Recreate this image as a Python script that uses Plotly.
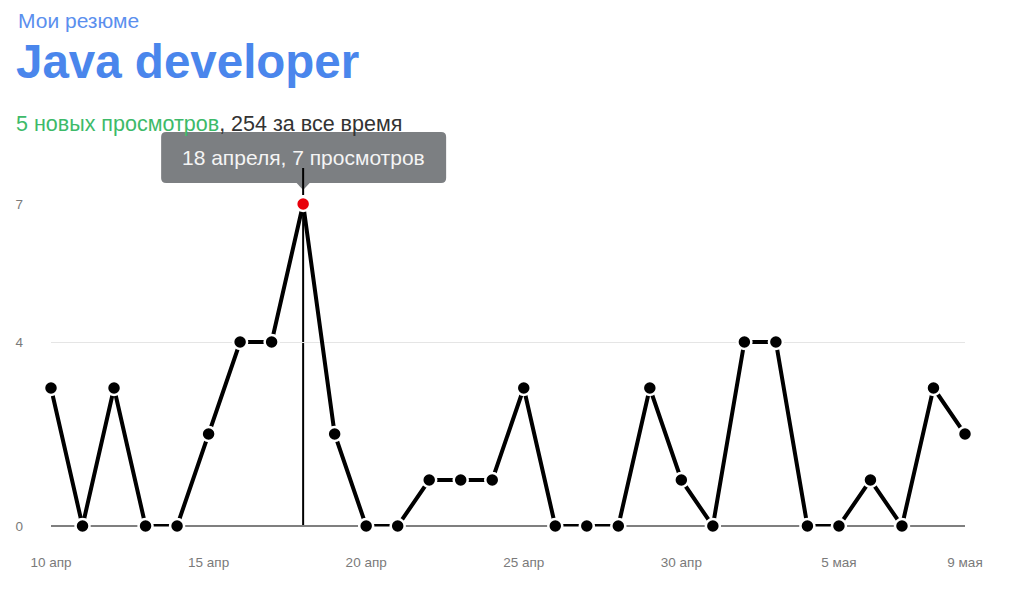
import plotly.graph_objects as go
import pandas as pd

# ---- data ----
dates = pd.date_range("2024-04-10", "2024-05-09", freq="D")
views = [3, 0, 3, 0, 0, 2, 4, 4, 7, 2,
         0, 0, 1, 1, 1, 3, 0, 0, 0, 3,
         1, 0, 4, 4, 0, 0, 1, 0, 3, 2]
tick_dates = ["2024-04-10", "2024-04-15", "2024-04-20", "2024-04-25",
              "2024-04-30", "2024-05-05", "2024-05-09"]
tick_labels = ["10 апр", "15 апр", "20 апр", "25 апр", "30 апр", "5 мая", "9 мая"]
y_ticks = [0, 4, 7]
y_max = 7
highlight_index = 8
tooltip_text = "18 апреля, 7 просмотров"
header_small = "Мои резюме"
header_title = "Java developer"
new_views_text = "5 новых просмотров"
total_text = ", 254 за все время"

peak_x = dates[highlight_index]
peak_y = views[highlight_index]

marker_colors = ["black"] * len(views)
marker_colors[highlight_index] = "#e8000b"

fig = go.Figure()
fig.add_trace(go.Scatter(
    x=dates, y=views, mode="lines+markers",
    line=dict(color="black", width=4),
    marker=dict(size=14, color=marker_colors, line=dict(color="white", width=2.5)),
    cliponaxis=False, hoverinfo="skip",
))

# page body has an 8px margin: size the figure to fit the window
OFF = 8
W, H = 1024 - OFF, 607 - OFF
L, R, T, B = 43, 59, 196, 81
pw, ph = W - L - R, H - T - B

def px_x(x_ref):
    return (x_ref - OFF - L) / pw

def px_y(y_ref):
    return (H - B - (y_ref - OFF)) / ph

# peak position in paper coordinates (derived from data & axis range)
peak_px = highlight_index / (len(dates) - 1)
peak_py = peak_y / y_max

def dx(p):
    return peak_px + p / pw

def dy(p):
    return peak_py + p / ph

TIP = "#7c7f82"
r = 5
x0, x1, y0, y1 = -142, 143, 21, 72
box_path = (
    f"M {dx(x0 + r)},{dy(y0)} L {dx(x1 - r)},{dy(y0)} Q {dx(x1)},{dy(y0)} {dx(x1)},{dy(y0 + r)} "
    f"L {dx(x1)},{dy(y1 - r)} Q {dx(x1)},{dy(y1)} {dx(x1 - r)},{dy(y1)} "
    f"L {dx(x0 + r)},{dy(y1)} Q {dx(x0)},{dy(y1)} {dx(x0)},{dy(y1 - r)} "
    f"L {dx(x0)},{dy(y0 + r)} Q {dx(x0)},{dy(y0)} {dx(x0 + r)},{dy(y0)} Z"
)
tri_path = f"M {dx(-7)},{dy(21.5)} L {dx(7)},{dy(21.5)} L {dx(0)},{dy(14)} Z"

shapes = [
    dict(type="line", xref="x", yref="y", x0=peak_x, x1=peak_x, y0=0, y1=peak_y,
         line=dict(color="black", width=2), layer="below"),
    dict(type="path", xref="paper", yref="paper", path=box_path,
         fillcolor=TIP, line=dict(width=0), layer="above"),
    dict(type="path", xref="paper", yref="paper", path=tri_path,
         fillcolor=TIP, line=dict(width=0), layer="above"),
    dict(type="line", xref="paper", yref="paper", x0=dx(0), x1=dx(0), y0=dy(9), y1=dy(36),
         line=dict(color="black", width=2), layer="above"),
]

FONT = "Liberation Sans, Arial, sans-serif"
annotations = [
    dict(text=header_small, xref="paper", yref="paper", x=px_x(16), y=px_y(20),
         xanchor="left", yanchor="middle", showarrow=False,
         font=dict(family=FONT, size=21, color="#5b8fee")),
    dict(text="<b>" + header_title + "</b>", xref="paper", yref="paper", x=px_x(14), y=px_y(62),
         xanchor="left", yanchor="middle", showarrow=False,
         font=dict(family=FONT, size=47.5, color="#4a86ec")),
    dict(text="<span style='color:#3dba69'>" + new_views_text + "</span>" + total_text,
         xref="paper", yref="paper", x=px_x(14), y=px_y(124),
         xanchor="left", yanchor="middle", showarrow=False,
         font=dict(family=FONT, size=21.5, color="#333333")),
    dict(text=tooltip_text, xref="paper", yref="paper", x=dx(0), y=dy(47),
         xanchor="center", yanchor="middle", showarrow=False,
         font=dict(family=FONT, size=21, color="#f4f4f4")),
]

TICKFONT = dict(family="Liberation Sans Narrow, Arial Narrow, Liberation Sans, sans-serif",
                size=13.5, color="#7a7a7a")

fig.update_layout(
    width=W, height=H,
    margin=dict(l=L, r=R, t=T, b=B, autoexpand=False),
    paper_bgcolor="white", plot_bgcolor="white",
    showlegend=False, hovermode=False,
    shapes=shapes, annotations=annotations,
    xaxis=dict(
        range=[dates[0], dates[-1]], tickvals=pd.to_datetime(tick_dates), ticktext=tick_labels,
        showgrid=False, zeroline=False, showline=False, ticks="", automargin=False,
        ticklabelstandoff=26, tickfont=TICKFONT,
    ),
    yaxis=dict(
        range=[0, y_max], tickvals=y_ticks, showgrid=True, gridcolor="#e5e5e5", gridwidth=1,
        zeroline=True, zerolinecolor="#7f7f7f", zerolinewidth=2, showline=False, ticks="",
        automargin=False, ticklabelstandoff=27, tickfont=TICKFONT,
    ),
)

fig.write_html("out.html")
